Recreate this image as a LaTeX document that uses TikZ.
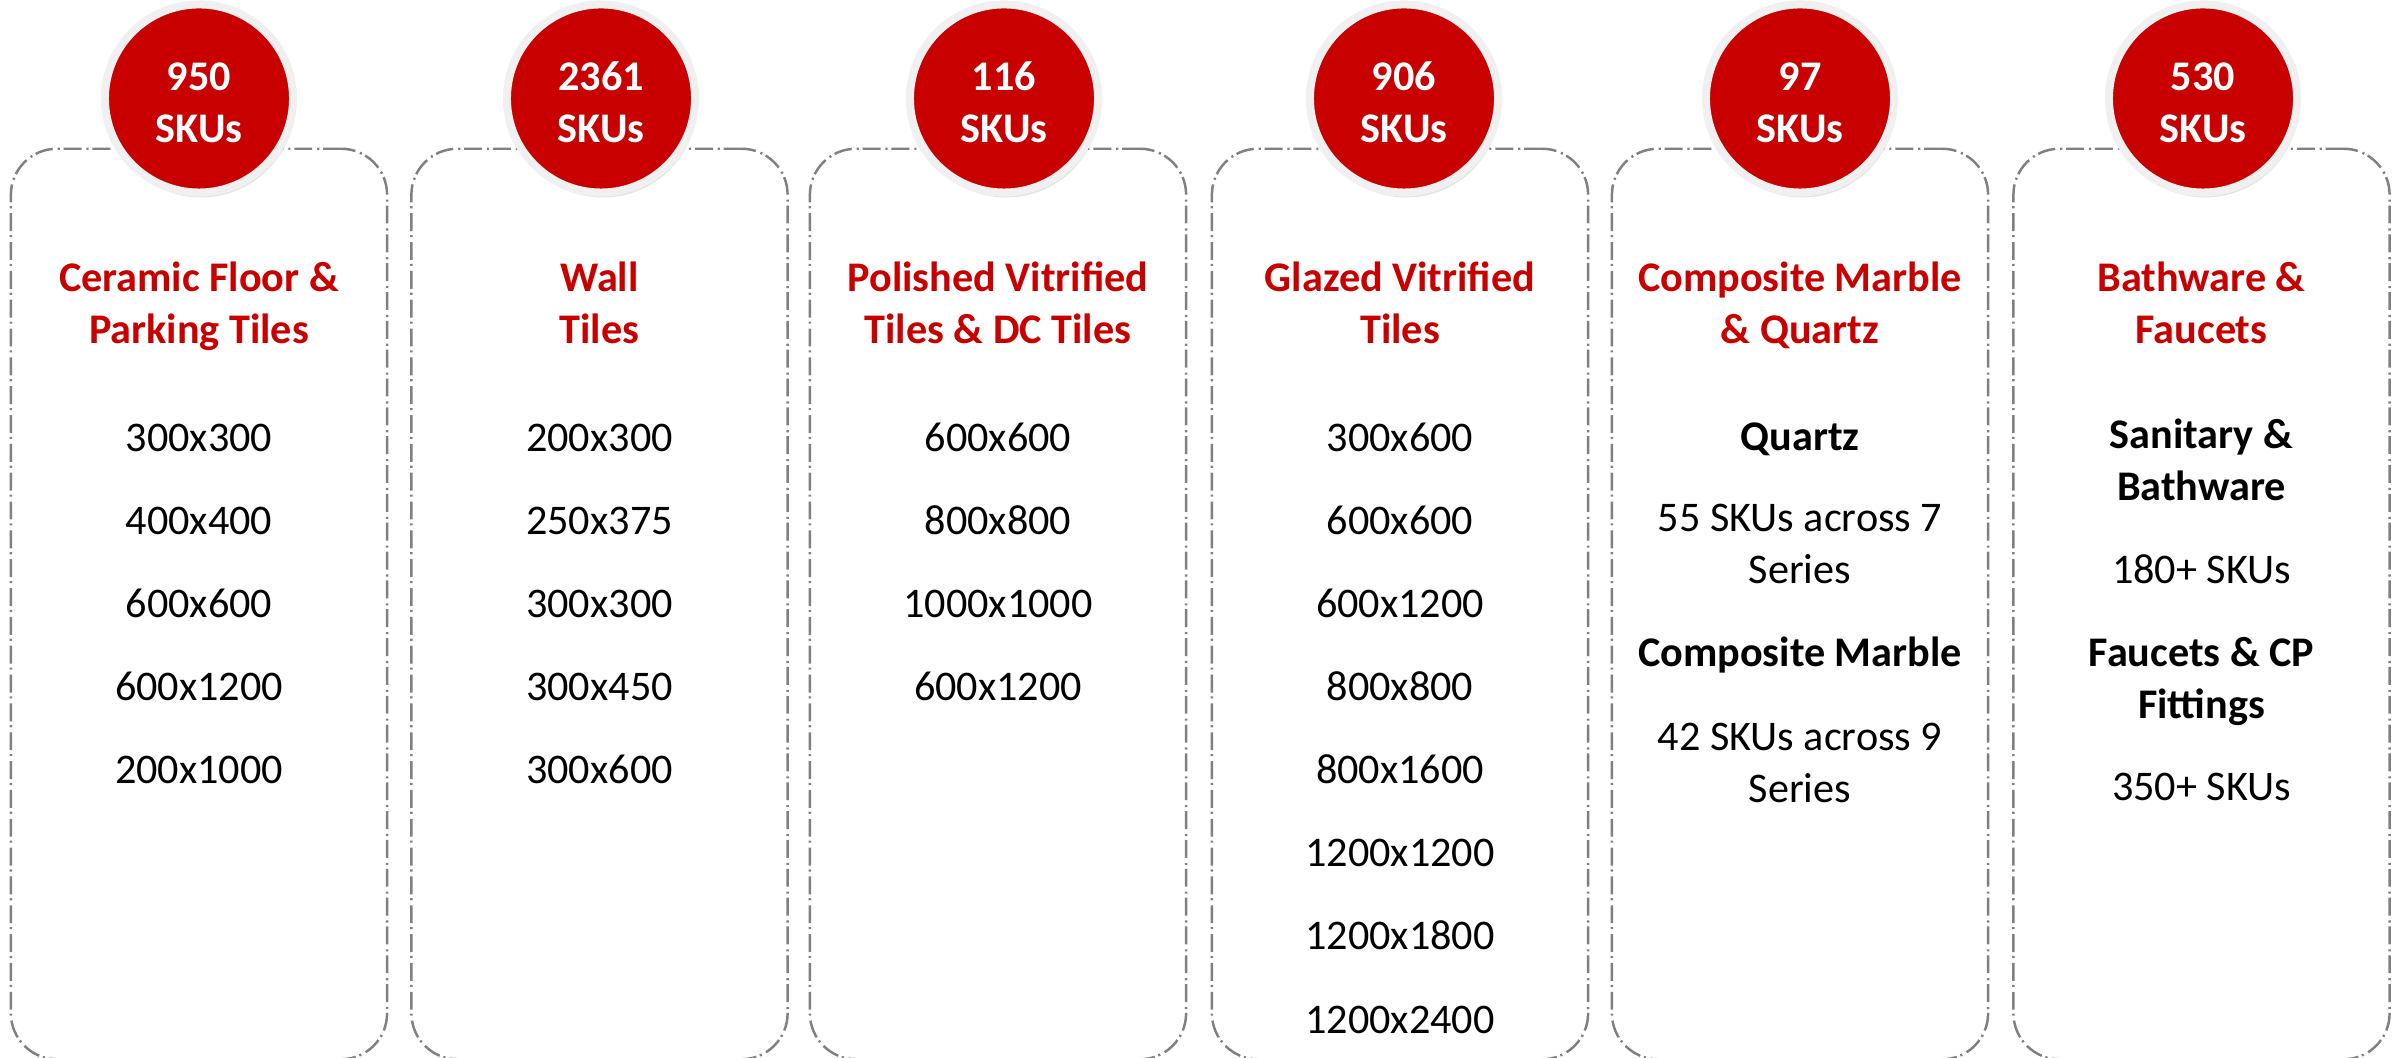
\documentclass[tikz,border=0pt]{standalone}
\usepackage{fontspec}
\setmainfont{Carlito}
\usetikzlibrary{shadows}

\definecolor{skured}{RGB}{200,0,0}
\definecolor{edgegray}{RGB}{128,128,128}

\begin{document}
\begin{tikzpicture}[
  x=0.01cm, y=-0.01cm,
  panel/.style={draw=edgegray, line width=0.7pt, rounded corners=0.46cm,
                dash pattern=on 5.1pt off 1.1pt on 0.6pt off 1.4pt,
                minimum width=3.76cm, minimum height=9.10cm, inner sep=0pt},
  badge/.style={circle, fill=skured, draw=black!6, line width=0.08cm,
                minimum size=1.88cm, inner sep=0pt, align=center, text=white,
                font=\fontsize{12}{14.8}\selectfont\bfseries,
                drop shadow={opacity=0.22, shadow xshift=0.6pt, shadow yshift=-1.4pt}},
  head/.style={anchor=base, align=center, inner sep=0pt, text=skured,
               font=\fontsize{12}{14.8}\selectfont\bfseries},
  item/.style={anchor=base, align=center, inner sep=0pt,
               font=\fontsize{12}{14.8}\selectfont},
  sub/.style={item, font=\fontsize{12}{14.8}\selectfont\bfseries},
]
\clip (0,0) rectangle (2402,1057);

% panels
\node[panel] (p1) at (199,604) {};
\node[panel] (p2) at (599.5,604) {};
\node[panel] (p3) at (998,604) {};
\node[panel] (p4) at (1400,604) {};
\node[panel] (p5) at (1800,604) {};
\node[panel] (p6) at (2201.5,604) {};

% sku counts
\node[badge] (b1) at ([yshift=0.49cm]p1.north) {\strut 950\\SKUs};
\node[badge] (b2) at ([xshift=0.015cm, yshift=0.49cm]p2.north) {\strut 2361\\SKUs};
\node[badge] (b3) at ([xshift=0.06cm, yshift=0.49cm]p3.north) {\strut 116\\SKUs};
\node[badge] (b4) at ([xshift=0.04cm, yshift=0.49cm]p4.north) {\strut 906\\SKUs};
\node[badge] (b5) at ([yshift=0.49cm]p5.north) {\strut 97\\SKUs};
\node[badge] (b6) at ([xshift=0.015cm, yshift=0.49cm]p6.north) {\strut 530\\SKUs};

% categories (base = last line)
\node[head] (h1) at ([yshift=-1.96cm]p1.north) {Ceramic Floor \&\\Parking Tiles};
\node[head] (h2) at ([yshift=-1.96cm]p2.north) {Wall\\Tiles};
\node[head] (h3) at ([yshift=-1.96cm]p3.north) {Polished Vitrified\\Tiles \& DC Tiles};
\node[head] (h4) at ([yshift=-1.96cm]p4.north) {Glazed Vitrified\\Tiles};
\node[head] (h5) at ([yshift=-1.96cm]p5.north) {Composite Marble\\\& Quartz};
\node[head] (h6) at ([yshift=-1.96cm]p6.north) {Bathware \&\\Faucets};

% sizes
\foreach \col/\sizes in {
    p1/{300x300,400x400,600x600,600x1200,200x1000},
    p2/{200x300,250x375,300x300,300x450,300x600},
    p3/{600x600,800x800,1000x1000,600x1200},
    p4/{300x600,600x600,600x1200,800x800,800x1600,1200x1200,1200x1800,1200x2400}}
  \foreach \s [count=\i] in \sizes
    \node[item] (\col-\i) at ([yshift={-3.04cm-(\i-1)*0.83cm}]\col.north) {\s};

\node[sub]  (q1) at ([yshift=-3.03cm]p5.north) {Quartz};
\node[item] (q2) at ([yshift=-4.36cm]p5.north) {55 SKUs across 7\\Series};
\node[sub]  (m1) at ([yshift=-5.19cm]p5.north) {Composite Marble};
\node[item] (m2) at ([yshift=-6.55cm]p5.north) {42 SKUs across 9\\Series};

\node[sub]  (s1) at ([yshift=-3.53cm]p6.north) {Sanitary \&\\Bathware};
\node[item] (s2) at ([yshift=-4.36cm]p6.north) {180+ SKUs};
\node[sub]  (f1) at ([yshift=-5.71cm]p6.north) {Faucets \& CP\\Fittings};
\node[item] (f2) at ([yshift=-6.53cm]p6.north) {350+ SKUs};
\end{tikzpicture}
\end{document}
